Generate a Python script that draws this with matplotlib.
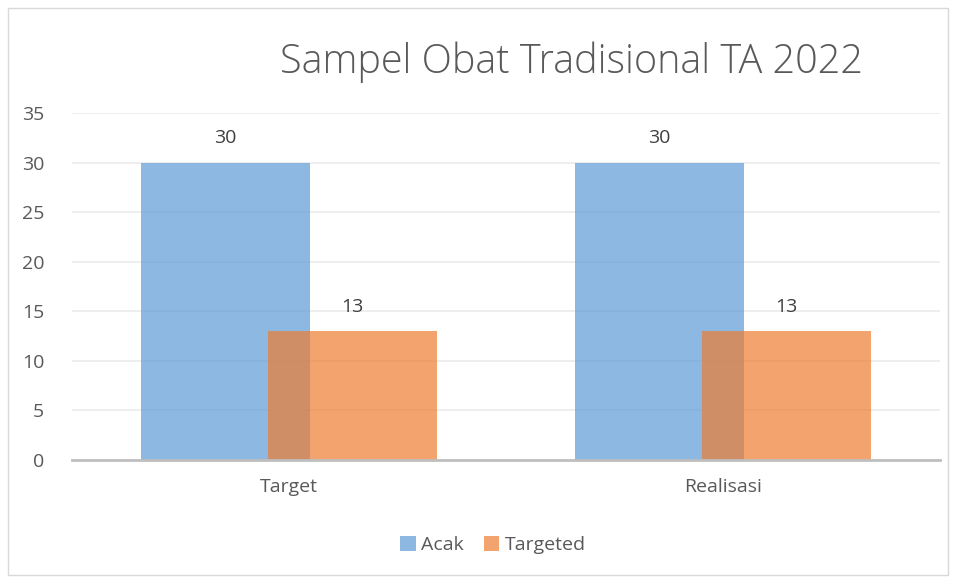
import matplotlib.pyplot as plt
from matplotlib.patches import Rectangle

plt.rcParams['font.family'] = ['Open Sans', 'DejaVu Sans']

categories = ['Target', 'Realisasi']
acak = [30, 30]
targeted = [13, 13]

text_col = '#595959'

fig = plt.figure(figsize=(9.57, 5.78), dpi=100)
ax = fig.add_axes([72 / 957, 1 - 460 / 578, 868 / 957, 347 / 578])

x = list(range(len(categories)))
w = 0.389
off = 0.146
b1 = ax.bar([i - off for i in x], acak, w, color='#5B9BD5', alpha=0.7, label='Acak', zorder=3)
b2 = ax.bar([i + off for i in x], targeted, w, color='#ED7D31', alpha=0.7, label='Targeted', zorder=4)
for bars in (b1, b2):
    ax.bar_label(bars, padding=11, fontsize=14, color='#404040')

ax.set_xlim(-0.5, 1.5)
ax.set_ylim(0, 35)
ax.set_yticks(range(0, 36, 5))
ax.set_xticks(x)
ax.set_xticklabels(categories)
ax.tick_params(axis='both', length=0, labelsize=14, labelcolor=text_col)
ax.tick_params(axis='x', pad=13)
ax.tick_params(axis='y', pad=20)
ax.grid(axis='y', color='#EBEBEB', linewidth=1.2, zorder=0)
for s in ('top', 'right', 'left'):
    ax.spines[s].set_visible(False)
ax.spines['bottom'].set_color('#BFBFBF')
ax.spines['bottom'].set_linewidth(2)
ax.spines['bottom'].set_zorder(5)

fig.text(572 / 957, 1 - 62 / 578, 'Sampel Obat Tradisional TA 2022', ha='center', va='center',
         fontsize=28.5, color=text_col, fontweight='light')

fig.legend(loc='center', bbox_to_anchor=(493 / 957, 1 - 545 / 578), ncol=2, frameon=False,
           fontsize=14, labelcolor=text_col, handlelength=0.8, handleheight=0.8,
           handletextpad=0.3, columnspacing=1.0)

fig.patches.append(Rectangle((8 / 957, 0.005), 940 / 957, 1 - 0.005 - 8 / 578, transform=fig.transFigure,
                             fill=False, edgecolor='#D9D9D9', linewidth=1))

fig.savefig('out.png', dpi=100)
